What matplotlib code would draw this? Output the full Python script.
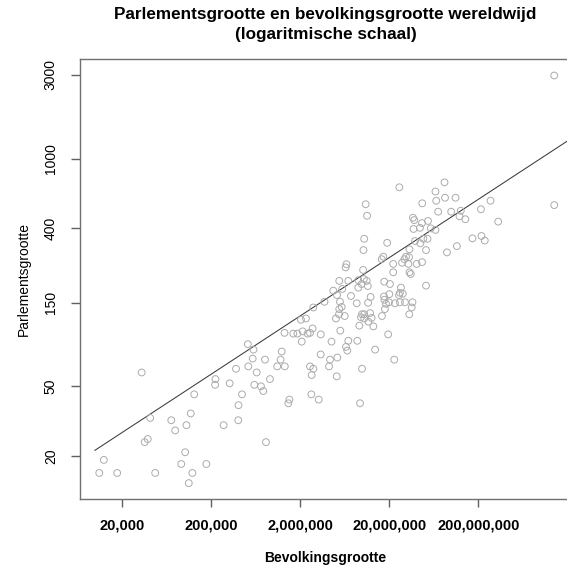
import matplotlib
matplotlib.use("Agg")
import matplotlib.pyplot as plt
from matplotlib.ticker import FixedLocator, FixedFormatter, NullLocator

plt.rcParams["font.family"] = ["Liberation Sans", "DejaVu Sans"]

# Population (x) and parliament size (y)
population = [
    11200, 12600, 17800, 33500, 36200, 39200, 41700, 47500, 71900, 79600,
    93100, 103000, 106500, 113000, 119000, 124000, 130000, 178000, 225000, 223000,
    278000, 325000, 383000, 408000, 406000, 447000, 519000, 526000, 589000, 601000,
    614000, 653000, 730000, 774000, 809000, 830000, 920000, 1110000, 1350000, 1210000,
    1245000, 1340000, 1480000, 1520000, 1680000, 1870000, 2050000, 2330000, 2140000, 2430000,
    2590000, 2770000, 2090000, 2820000, 3760000, 3420000, 3410000, 4340000, 4230000, 2590000,
    2820000, 2700000, 2680000, 3240000, 4510000, 4720000, 5960000, 5200000, 7460000, 5510000,
    6960000, 9010000, 10400000, 11200000, 9830000, 11500000, 9010000, 6640000, 6500000, 10200000,
    10300000, 10500000, 10900000, 11300000, 5610000, 5870000, 8650000, 11600000, 12400000, 5510000,
    5470000, 6340000, 5060000, 9910000, 10500000, 12200000, 9660000, 10500000, 12700000, 11700000,
    9250000, 13300000, 5660000, 6960000, 8780000, 6560000, 6780000, 13900000, 5240000, 9910000,
    5160000, 9420000, 17500000, 20100000, 17700000, 18400000, 23200000, 26400000, 30100000, 36500000,
    35800000, 33600000, 17900000, 16600000, 19500000, 22800000, 27100000, 26400000, 28400000, 25800000,
    17600000, 20400000, 51800000, 16500000, 17200000, 30900000, 33400000, 29600000, 27900000, 22200000,
    32800000, 40700000, 46700000, 22200000, 33800000, 34900000, 19000000, 26000000, 33800000, 51800000,
    39000000, 44700000, 48300000, 53800000, 37000000, 38200000, 46700000, 54500000, 44300000, 37500000,
    58600000, 66100000, 47000000, 83500000, 66100000, 84600000, 111000000, 67400000, 70900000, 99200000,
    127000000, 123000000, 143000000, 89000000, 115000000, 172000000, 217000000, 236000000, 214000000, 274000000,
    334000000, 1420000000, 1420000000, 19900000,
]
parliament = [
    16, 19, 16, 60, 24, 25, 33, 16, 32, 28,
    18, 21, 30, 14, 35, 16, 45, 18, 55, 51,
    30, 52, 63, 39, 32, 45, 87, 65, 72, 81,
    51, 60, 50, 47, 71, 24, 55, 65, 65, 71,
    79, 101, 40, 42, 100, 100, 120, 122, 103, 100,
    101, 107, 90, 141, 152, 99, 76, 71, 65, 65,
    63, 58, 45, 42, 90, 176, 180, 166, 164, 200,
    200, 202, 205, 200, 192, 187, 183, 249, 239, 231,
    300, 348, 548, 471, 152, 142, 149, 150, 162, 138,
    129, 126, 122, 129, 129, 131, 124, 122, 123, 117,
    111, 110, 104, 91, 91, 84, 80, 81, 73, 63,
    57, 40, 163, 168, 156, 148, 149, 151, 151, 151,
    141, 129, 138, 126, 99, 71, 183, 171, 169, 166,
    198, 192, 188, 266, 275, 275, 273, 266, 254, 250,
    250, 250, 256, 224, 224, 219, 330, 685, 303, 300,
    338, 328, 348, 348, 459, 445, 428, 440, 402, 396,
    399, 391, 555, 731, 648, 597, 597, 574, 497, 497,
    503, 468, 450, 291, 316, 350, 361, 340, 513, 574,
    436, 542, 2980, 151,
]

# Cube-root reference line (parliament = population ** (1/3))
fit_exponent = 1 / 3
fit_start, fit_end = 1e4, 1e10

x_ticks = [2e4, 2e5, 2e6, 2e7, 2e8]
x_tick_labels = ["20,000", "200,000", "2,000,000", "20,000,000", "200,000,000"]
y_ticks = [20, 50, 150, 400, 1000, 3000]
y_tick_labels = ["20", "50", "150", "400", "1000", "3000"]

title_lines = ["Parlementsgrootte en bevolkingsgrootte wereldwijd",
               "(logaritmische schaal)"]
x_label = "Bevolkingsgrootte"
y_label = "Parlementsgrootte"

W, H = 567, 569
fig = plt.figure(figsize=(W / 100, H / 100), dpi=100)
L, R, T, B = 80, 571, 59, 499
ax = fig.add_axes([L / W, (H - B) / H, (R - L) / W, (B - T) / H])

ax.set_xscale("log")
ax.set_yscale("log")
ax.set_xlim(6810, 2.19e9)
ax.set_ylim(11.36, 3702)

ax.scatter(population, parliament, s=24, facecolors="none",
           edgecolors="#ababab", linewidths=0.7, zorder=3)
ax.plot([fit_start, fit_end],
        [fit_start ** fit_exponent, fit_end ** fit_exponent],
        color="#3a3a3a", lw=0.75, zorder=2)

for s in ax.spines.values():
    s.set_color("#707070")
    s.set_linewidth(1.0)

ax.xaxis.set_major_locator(FixedLocator(x_ticks))
ax.xaxis.set_major_formatter(FixedFormatter(x_tick_labels))
ax.xaxis.set_minor_locator(NullLocator())
ax.yaxis.set_major_locator(FixedLocator(y_ticks))
ax.yaxis.set_major_formatter(FixedFormatter(y_tick_labels))
ax.yaxis.set_minor_locator(NullLocator())

ax.tick_params(axis="both", which="major", width=1.0, color="#606060")
ax.tick_params(axis="x", length=5.5, pad=8.5, labelsize=10.5)
ax.tick_params(axis="y", length=6.5, pad=9.5, labelsize=10)
for lab in ax.get_xticklabels():
    lab.set_fontweight("bold")
for lab in ax.get_yticklabels():
    lab.set_rotation(90)
    lab.set_va("center")

ax.set_xlabel(x_label, fontsize=10, fontweight="bold", va="center")
ax.xaxis.set_label_coords(0.5, -(558 - B) / (B - T))
ax.set_ylabel(y_label, fontsize=10, va="center", ha="center")
ax.yaxis.set_label_coords(-(L - 24) / (R - L), 0.5)

title_y = [14, 35]
for txt, yy in zip(title_lines, title_y):
    fig.text((L + R) / 2 / W, 1 - yy / H, txt, ha="center", va="center",
             fontsize=12.3, fontweight="bold")

fig.savefig("out.png", dpi=100)
